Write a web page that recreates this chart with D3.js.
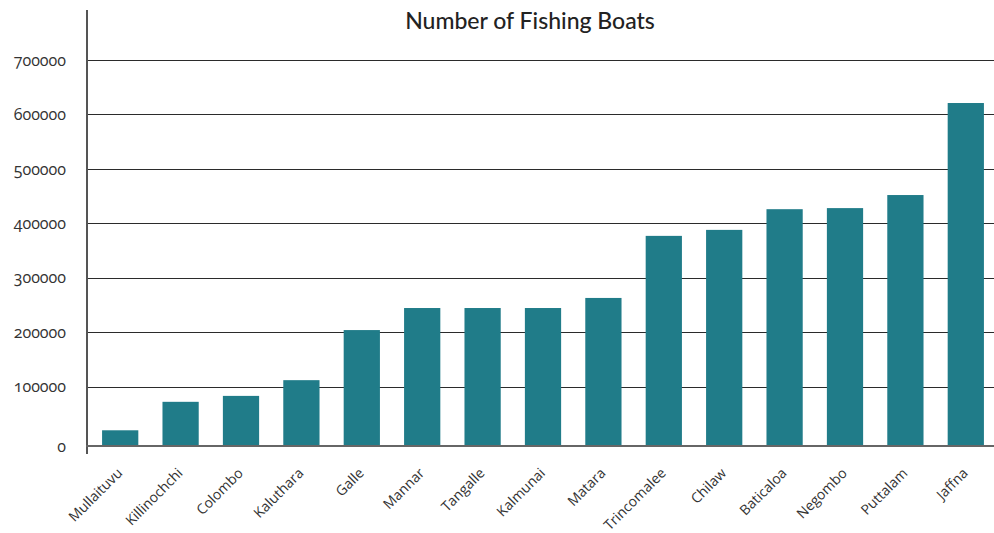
<!DOCTYPE html>
<html>
<head>
<meta charset="utf-8">
<script src="https://cdn.jsdelivr.net/npm/d3@7"></script>
<style>
  body { margin: 0; background: #fff; }
  svg { display: block; }
  .ytick text { font-family: "Open Sans", Lato, sans-serif; font-variant-numeric: oldstyle-nums; }
</style>
</head>
<body>
<svg id="chart" width="994" height="533"></svg>
<script>
const title = "Number of Fishing Boats";
const districts = ["Mullaituvu","Killinochchi","Colombo","Kaluthara","Galle","Mannar","Tangalle","Kalmunai","Matara","Trincomalee","Chilaw","Baticaloa","Negombo","Puttalam","Jaffna"];
const boats = [26500, 74500, 84500, 112000, 204000, 244500, 244500, 244500, 263000, 377000, 388000, 426000, 428000, 452000, 621000];
const yTicks = [0, 100000, 200000, 300000, 400000, 500000, 600000, 700000];

const svg = d3.select("#chart");
const axisX = 87, plotRight = 994, axisTop = 10;

const x = d3.scaleBand().domain(districts).range([90, 996]).paddingInner(0.4).paddingOuter(0.2);
// scale as drawn in the reference: the first band is slightly taller than the others
const y = d3.scaleLinear().domain([0, 100000, 700000]).range([446, 386.7, 60]);

// gridlines
svg.append("g").selectAll("line").data(yTicks.slice(1)).join("line")
  .attr("x1", axisX).attr("x2", plotRight)
  .attr("y1", d => Math.round(y(d)) + 0.5).attr("y2", d => Math.round(y(d)) + 0.5)
  .attr("stroke", "#2b2b2b").attr("stroke-width", 1.2);

// bars
svg.append("g").selectAll("rect").data(districts).join("rect")
  .attr("x", d => x(d)).attr("width", x.bandwidth())
  .attr("y", (d, i) => y(boats[i])).attr("height", (d, i) => y(0) - y(boats[i]))
  .attr("fill", "#207c89");

// y axis
const yAxis = d3.axisLeft(y).tickValues(yTicks).tickFormat(d3.format("d")).tickSize(0).tickPadding(21);
const gy = svg.append("g").attr("class", "ytick").attr("transform", `translate(${axisX},0)`).call(yAxis);
gy.select(".domain").remove();
gy.selectAll("text").attr("font-size", 16).attr("fill", "#333");
svg.append("line").attr("x1", axisX).attr("x2", axisX).attr("y1", axisTop).attr("y2", 454)
  .attr("stroke", "#555").attr("stroke-width", 2);

// x axis
const xAxis = d3.axisBottom(x).tickSize(0).tickPadding(0);
const gx = svg.append("g").attr("transform", `translate(0,${y(0)})`).call(xAxis);
gx.select(".domain").remove();
svg.append("line").attr("x1", axisX - 1).attr("x2", plotRight).attr("y1", y(0)).attr("y2", y(0))
  .attr("stroke", "#666").attr("stroke-width", 2);
gx.selectAll("text")
  .attr("font-family", "'Open Sans', Lato, sans-serif").attr("font-size", 14).attr("fill", "#333")
  .attr("text-anchor", "end").attr("dy", null).attr("y", 0)
  .attr("transform", "translate(3,28) rotate(-45)");

// title
svg.append("text").attr("x", 530).attr("y", 29).attr("text-anchor", "middle")
  .attr("font-family", "Lato, 'Noto Sans', sans-serif").attr("font-size", 23).attr("font-weight", 500)
  .attr("fill", "#222").text(title);
</script>
</body>
</html>
